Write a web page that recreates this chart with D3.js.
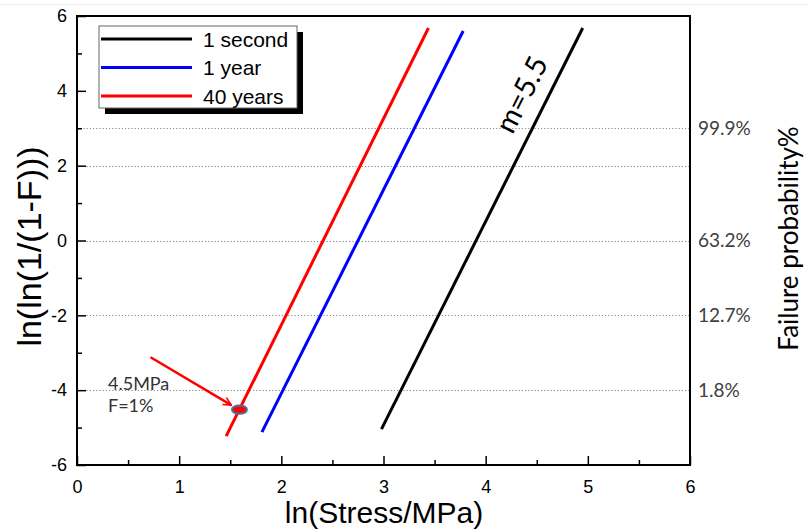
<!DOCTYPE html>
<html>
<head>
<meta charset="utf-8">
<script src="https://cdn.jsdelivr.net/npm/d3@7"></script>
<style>
  html, body { margin: 0; padding: 0; background: #fff; }
  svg { display: block; }
</style>
</head>
<body>
<svg id="chart" width="808" height="529"></svg>
<script>
// Weibull plot: ln(ln(1/(1-F))) against ln(stress) for three load durations
const seriesNames = ["1 second", "1 year", "40 years"];
const seriesColors = ["#000000", "#0000ff", "#ff0000"];
// endpoints of each fitted line: [ln(stress), ln(ln(1/(1-F)))]
const line1Second = [[2.98, -5.04], [4.95, 5.68]];
const line1Year = [[1.81, -5.12], [3.78, 5.60]];
const line40Years = [[1.46, -5.23], [3.44, 5.68]];
const seriesLines = [line1Second, line1Year, line40Years];

const xTicks = [0, 1, 2, 3, 4, 5, 6];
const yTicks = [-6, -4, -2, 0, 2, 4, 6];
const gridLevels = [3, 2, 0, -2, -4];
const probLevels = [3, 0, -2, -4];
const probLabels = ["99.9%", "63.2%", "12.7%", "1.8%"];

// highlighted design point on the 40-year line and its callout
const designPoint = [1.59, -4.52];
const designLabel = ["4.5MPa", "F=1%"];
const arrowFrom = [0.72, -3.12];
const arrowTo = [1.51, -4.40];
const slopeLabel = "m=5.5";
const slopeLabelAt = [4.44, 3.78];

const svg = d3.select("#chart");
const M = { left: 77, right: 690, top: 16, bottom: 465 };

const x = d3.scaleLinear().domain([0, 6]).range([M.left, M.right]);
const y = d3.scaleLinear().domain([-6, 6]).range([M.bottom, M.top]);

const sans = "'Liberation Sans', Arial, sans-serif";
const soft = "Lato, 'Open Sans', sans-serif";

// faint frame line along the top of the figure
svg.append("line").attr("x1", 0).attr("x2", 808).attr("y1", 4.5).attr("y2", 4.5)
  .attr("stroke", "#ececec").attr("stroke-width", 1);

// dotted reference levels
svg.append("g").selectAll("line").data(gridLevels).join("line")
  .attr("x1", x(0)).attr("x2", x(6))
  .attr("y1", d => Math.round(y(d)) + 0.5).attr("y2", d => Math.round(y(d)) + 0.5)
  .attr("stroke", "#8a8a8a").attr("stroke-width", 1)
  .attr("stroke-dasharray", "1.2,2");

// fitted lines
const lineGen = d3.line().x(d => x(d[0])).y(d => y(d[1]));
svg.append("g").selectAll("path").data(seriesLines).join("path")
  .attr("d", lineGen)
  .attr("fill", "none")
  .attr("stroke", (d, i) => seriesColors[i])
  .attr("stroke-width", 3);

// axes: ticks drawn inward, major + minor
const fmt = d => String(d);
const xAxis = d3.axisBottom(x).tickValues(xTicks).tickFormat(fmt).tickSizeInner(-9).tickSizeOuter(0).tickPadding(15);
const xMinor = d3.axisBottom(x).tickValues(d3.range(0.5, 6, 1)).tickSize(-5).tickFormat("");
const yAxis = d3.axisLeft(y).tickValues(yTicks).tickFormat(fmt).tickSizeInner(-9).tickSizeOuter(0).tickPadding(10);
const yMinor = d3.axisLeft(y).tickValues(d3.range(-5, 6, 2)).tickSize(-5).tickFormat("");

function styleAxis(g) {
  g.select(".domain").remove();
  g.selectAll(".tick line").attr("stroke", "#000").attr("stroke-width", 1.5);
  g.selectAll(".tick text").attr("font-family", sans).attr("font-size", 18).attr("fill", "#000");
}
svg.append("g").attr("transform", `translate(0,${M.bottom})`).call(xAxis).call(styleAxis);
svg.append("g").attr("transform", `translate(0,${M.bottom})`).call(xMinor).call(styleAxis);
svg.append("g").attr("transform", `translate(${M.left},0)`).call(yAxis).call(styleAxis);
svg.append("g").attr("transform", `translate(${M.left},0)`).call(yMinor).call(styleAxis);

// plot frame
svg.append("rect")
  .attr("x", M.left).attr("y", M.top)
  .attr("width", M.right - M.left).attr("height", M.bottom - M.top)
  .attr("fill", "none").attr("stroke", "#000").attr("stroke-width", 2);

// axis titles
svg.append("text").attr("x", 384).attr("y", 523)
  .attr("text-anchor", "middle").attr("font-family", sans).attr("font-size", 30).attr("fill", "#000")
  .text("ln(Stress/MPa)");
svg.append("text")
  .attr("transform", `translate(41,${y(0) + 6}) rotate(-90)`)
  .attr("text-anchor", "middle").attr("font-family", sans).attr("font-size", 34).attr("fill", "#000")
  .text("ln(ln(1/(1-F)))");

// failure probability labels on the right
svg.append("g").selectAll("text").data(probLevels).join("text")
  .attr("x", 698).attr("y", d => y(d)).attr("dy", "0.36em")
  .attr("font-family", soft).attr("font-size", 19).attr("fill", "#404040")
  .text((d, i) => probLabels[i]);
svg.append("text")
  .attr("transform", `translate(798,${y(0) - 2}) rotate(-90)`)
  .attr("text-anchor", "middle").attr("font-family", soft).attr("font-size", 26).attr("fill", "#000")
  .text("Failure probability%");

// slope annotation along the 1-second line
const p0 = line1Second[0], p1 = line1Second[1];
const ang = Math.atan2(y(p1[1]) - y(p0[1]), x(p1[0]) - x(p0[0])) * 180 / Math.PI;
svg.append("text")
  .attr("transform", `translate(${x(slopeLabelAt[0])},${y(slopeLabelAt[1])}) rotate(${ang})`)
  .attr("text-anchor", "middle").attr("font-family", soft).attr("font-size", 29).attr("fill", "#000")
  .text(slopeLabel);

// callout arrow and design point
svg.append("defs").append("marker")
  .attr("id", "head").attr("viewBox", "0 0 10 10").attr("refX", 9).attr("refY", 5)
  .attr("markerWidth", 4).attr("markerHeight", 4).attr("orient", "auto")
  .attr("markerUnits", "strokeWidth")
  .append("path").attr("d", "M1,1 L9,5 L1,9").attr("fill", "none")
  .attr("stroke", "#ff0000").attr("stroke-width", 1.6).attr("stroke-linejoin", "miter");
svg.append("line")
  .attr("x1", x(arrowFrom[0])).attr("y1", y(arrowFrom[1]))
  .attr("x2", x(arrowTo[0])).attr("y2", y(arrowTo[1]))
  .attr("stroke", "#ff0000").attr("stroke-width", 2.5).attr("marker-end", "url(#head)");
svg.append("ellipse")
  .attr("cx", x(designPoint[0])).attr("cy", y(designPoint[1]))
  .attr("rx", 7.5).attr("ry", 4.2)
  .attr("fill", "#ff0000").attr("stroke", "#4f6f99").attr("stroke-width", 2);
svg.append("g").selectAll("text").data(designLabel).join("text")
  .attr("x", 108).attr("y", (d, i) => 384 + i * 22).attr("dy", "0.36em")
  .attr("font-family", soft).attr("font-size", 18).attr("fill", "#333")
  .text(d => d);

// legend with drop shadow
const lg = { x: 99, y: 26, w: 198, h: 82 };
svg.append("rect").attr("x", lg.x + 6).attr("y", lg.y + 6).attr("width", lg.w).attr("height", lg.h).attr("fill", "#000");
svg.append("rect").attr("x", lg.x).attr("y", lg.y).attr("width", lg.w).attr("height", lg.h)
  .attr("fill", "#fff").attr("stroke", "#666").attr("stroke-width", 1);
const rows = svg.append("g").selectAll("g").data(seriesNames).join("g")
  .attr("transform", (d, i) => `translate(0,${39 + i * 28.5})`);
rows.append("line").attr("x1", 101).attr("x2", 192).attr("y1", 0).attr("y2", 0)
  .attr("stroke", (d, i) => seriesColors[i]).attr("stroke-width", 3);
rows.append("text").attr("x", 203).attr("y", 0).attr("dy", "0.36em")
  .attr("font-family", sans).attr("font-size", 21).attr("fill", "#000")
  .text(d => d);
</script>
</body>
</html>
